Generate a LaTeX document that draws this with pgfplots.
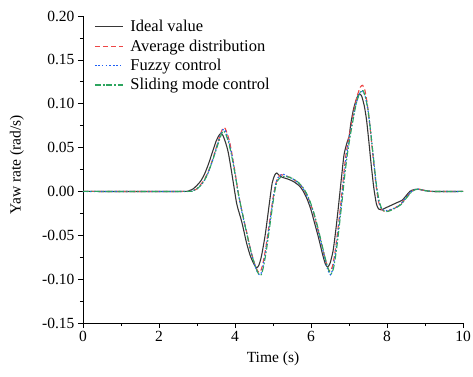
\documentclass[border=0pt]{standalone}
\usepackage{pgfplots}
\pgfplotsset{compat=1.18}
\usepackage{fontspec}
\setmainfont{Liberation Serif}
\definecolor{cblack}{RGB}{55,55,55}
\definecolor{cred}{RGB}{238,70,70}
\definecolor{cblue}{RGB}{30,95,245}
\definecolor{cgreen}{RGB}{45,165,95}
\begin{document}
\begin{tikzpicture}[x=1pt,y=1pt]
\path[use as bounding box] (-83,-53) rectangle (390,323);
\begin{axis}[
  at={(0,0)}, anchor=south west,
  scale only axis, width=380pt, height=307pt,
  xmin=0, xmax=10, ymin=-0.15, ymax=0.20,
  axis x line*=bottom, axis y line*=left,
  axis line style={-, black, line width=0.8pt},
  tick align=outside,
  major tick length=5pt, minor tick length=3pt,
  every tick/.style={black, line width=0.7pt},
  xtick={0,2,4,6,8,10}, minor x tick num=1,
  ytick={-0.15,-0.10,-0.05,0,0.05,0.10,0.15,0.20}, minor y tick num=1,
  yticklabel style={/pgf/number format/.cd, fixed, fixed zerofill, precision=2},
  /pgf/number format/assume math mode=true,
  tick label style={font=\fontsize{15.5}{17}\selectfont},
  xlabel={Time (s)}, ylabel={Yaw rate (rad/s)},
  label style={font=\fontsize{15.5}{17}\selectfont},
  xlabel style={at={([yshift=-36pt]axis description cs:0.5,0)}, anchor=center},
  ylabel style={at={([xshift=-66pt,yshift=5pt]axis description cs:0,0.5)}, anchor=center},
  legend style={at={([xshift=10pt,yshift=-1pt]rel axis cs:0,1)}, anchor=north west, draw=none, fill=none,
    font=\fontsize{16.5}{19}\selectfont, row sep=2.5pt, inner sep=1pt},
  legend cell align=left,
  legend image code/.code={\draw[#1] plot coordinates {(0pt,0pt) (28pt,0pt)}; \path (33pt,0pt);},
  clip=true,
]
\addplot[color=cblack, line width=1.1pt, smooth, tension=0.4] coordinates {
(0,0) (2.6,0) (2.8,0.001) (2.9,0.003) (3.0,0.007) (3.1,0.012) (3.2,0.02) (3.3,0.031) (3.4,0.044) (3.5,0.057) (3.58,0.064) (3.63,0.066) (3.68,0.064) (3.75,0.056) (3.82,0.045) (3.9,0.025) (3.97,0.006) (4.05,-0.015) (4.18,-0.035) (4.3,-0.058) (4.4,-0.073) (4.5,-0.083) (4.57,-0.087) (4.63,-0.084) (4.7,-0.073) (4.8,-0.048) (4.9,-0.015) (4.98,0.010) (5.05,0.019) (5.1,0.021) (5.17,0.018) (5.25,0.016) (5.4,0.014) (5.55,0.011) (5.7,0.006) (5.8,0.0) (5.9,-0.009) (6.0,-0.021) (6.1,-0.037) (6.2,-0.053) (6.3,-0.071) (6.38,-0.083) (6.44,-0.086) (6.5,-0.082) (6.58,-0.068) (6.65,-0.045) (6.72,-0.018) (6.8,0.015) (6.87,0.042) (6.95,0.056) (7.0,0.062) (7.05,0.078) (7.12,0.094) (7.2,0.106) (7.27,0.111) (7.33,0.109) (7.4,0.098) (7.46,0.082) (7.52,0.058) (7.58,0.032) (7.65,0.005) (7.72,-0.014) (7.78,-0.020) (7.85,-0.021) (7.95,-0.019) (8.1,-0.016) (8.25,-0.013) (8.4,-0.010) (8.5,-0.005) (8.6,0.000) (8.7,0.002) (8.82,0.0025) (9.0,0.001) (9.2,0.0) (10,0)};
\addlegendentry{Ideal value}
\addplot[color=cred, line width=1.1pt, dash pattern=on 5pt off 3pt, smooth, tension=0.4] coordinates {
(0,0)(2.7,0)(2.9,0.001)(3.0,0.003)(3.1,0.008)(3.2,0.014)(3.3,0.023)(3.4,0.035)(3.5,0.049)(3.6,0.063)(3.67,0.071)(3.72,0.073)(3.77,0.069)(3.85,0.058)(3.92,0.043)(4.0,0.022)(4.08,0.0)(4.18,-0.022)(4.3,-0.045)(4.42,-0.068)(4.52,-0.083)(4.6,-0.091)(4.66,-0.092)(4.72,-0.085)(4.8,-0.067)(4.9,-0.038)(5.0,-0.008)(5.08,0.010)(5.15,0.017)(5.22,0.019)(5.3,0.018)(5.45,0.016)(5.6,0.012)(5.75,0.006)(5.85,-0.001)(5.95,-0.010)(6.05,-0.022)(6.15,-0.038)(6.25,-0.055)(6.35,-0.073)(6.44,-0.087)(6.5,-0.091)(6.56,-0.086)(6.63,-0.070)(6.7,-0.046)(6.78,-0.016)(6.85,0.015)(6.92,0.042)(7.0,0.062)(7.07,0.078)(7.15,0.097)(7.23,0.111)(7.3,0.119)(7.36,0.121)(7.42,0.115)(7.48,0.100)(7.55,0.075)(7.62,0.045)(7.7,0.012)(7.77,-0.010)(7.85,-0.020)(7.95,-0.023)(8.05,-0.022)(8.2,-0.019)(8.35,-0.015)(8.5,-0.007)(8.62,-0.001)(8.72,0.002)(8.85,0.0025)(9.0,0.001)(9.2,0)(10,0)};
\addlegendentry{Average distribution}
\addplot[color=cblue, line width=1.2pt, dash pattern=on 1.4pt off 2.2pt, smooth, tension=0.4] coordinates {
(0,0)(2.7,0)(2.9,0.001)(3.0,0.003)(3.1,0.007)(3.2,0.013)(3.3,0.022)(3.4,0.034)(3.5,0.048)(3.6,0.062)(3.66,0.069)(3.71,0.071)(3.76,0.068)(3.84,0.057)(3.92,0.041)(4.0,0.021)(4.08,-0.001)(4.18,-0.023)(4.3,-0.046)(4.42,-0.069)(4.52,-0.084)(4.6,-0.093)(4.67,-0.095)(4.73,-0.087)(4.8,-0.070)(4.9,-0.040)(5.0,-0.009)(5.08,0.010)(5.15,0.017)(5.22,0.019)(5.27,0.020)(5.32,0.018)(5.45,0.016)(5.6,0.012)(5.75,0.006)(5.85,-0.001)(5.95,-0.010)(6.05,-0.022)(6.15,-0.038)(6.25,-0.056)(6.35,-0.074)(6.44,-0.089)(6.51,-0.095)(6.57,-0.089)(6.64,-0.071)(6.71,-0.047)(6.79,-0.016)(6.86,0.014)(6.93,0.040)(7.0,0.059)(7.08,0.077)(7.16,0.095)(7.24,0.108)(7.31,0.113)(7.37,0.114)(7.43,0.108)(7.49,0.095)(7.56,0.072)(7.63,0.043)(7.71,0.010)(7.78,-0.011)(7.86,-0.020)(7.96,-0.022)(8.06,-0.021)(8.2,-0.019)(8.35,-0.015)(8.5,-0.007)(8.62,-0.001)(8.72,0.002)(8.85,0.0025)(9.0,0.001)(9.2,0)(10,0)};
\addlegendentry{Fuzzy control}
\addplot[color=cgreen, line width=1.1pt, dash pattern=on 6pt off 2pt on 1.5pt off 2pt, smooth, tension=0.4] coordinates {
(0,0)(2.7,0)(2.9,0.001)(3.0,0.003)(3.1,0.007)(3.2,0.013)(3.3,0.022)(3.4,0.034)(3.5,0.047)(3.6,0.060)(3.66,0.067)(3.7,0.069)(3.75,0.066)(3.83,0.056)(3.91,0.041)(4.0,0.020)(4.09,-0.003)(4.2,-0.026)(4.32,-0.050)(4.44,-0.072)(4.54,-0.086)(4.62,-0.094)(4.69,-0.095)(4.75,-0.086)(4.83,-0.066)(4.93,-0.035)(5.03,-0.004)(5.1,0.010)(5.17,0.015)(5.25,0.017)(5.35,0.017)(5.5,0.015)(5.65,0.011)(5.78,0.005)(5.88,-0.002)(5.98,-0.012)(6.08,-0.025)(6.18,-0.041)(6.28,-0.059)(6.38,-0.077)(6.46,-0.089)(6.53,-0.094)(6.59,-0.088)(6.66,-0.070)(6.73,-0.045)(6.81,-0.014)(6.88,0.015)(6.95,0.040)(7.02,0.060)(7.1,0.080)(7.18,0.098)(7.26,0.110)(7.32,0.115)(7.37,0.115)(7.43,0.108)(7.5,0.093)(7.57,0.068)(7.64,0.040)(7.72,0.008)(7.8,-0.012)(7.88,-0.021)(7.98,-0.023)(8.08,-0.022)(8.22,-0.019)(8.37,-0.015)(8.52,-0.007)(8.64,-0.001)(8.74,0.002)(8.86,0.0025)(9.0,0.001)(9.2,0)(10,0)};
\addlegendentry{Sliding mode control}
\end{axis}
\end{tikzpicture}
\end{document}
